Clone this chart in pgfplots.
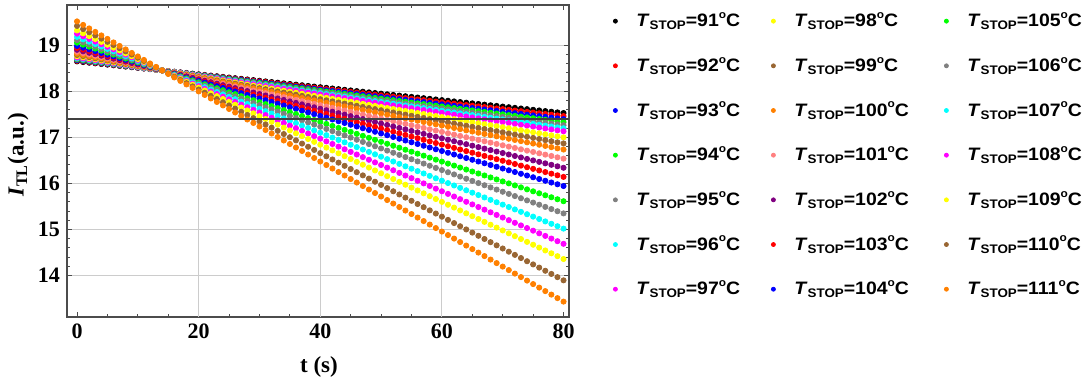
\documentclass[border=0pt]{standalone}
\usepackage{fontspec}
\setmainfont{Liberation Serif}
\newfontfamily\legfont{Liberation Sans}[FakeStretch=1.08]
\usepackage{pgfplots}
\usepackage{pgfplotstable}
\pgfplotsset{compat=1.18}
\definecolor{mRed}{rgb}{1,0,0}
\definecolor{mBlue}{rgb}{0,0,1}
\definecolor{mGreen}{rgb}{0,1,0}
\definecolor{mGray}{rgb}{0.5,0.5,0.5}
\definecolor{mCyan}{rgb}{0,1,1}
\definecolor{mMagenta}{rgb}{1,0,1}
\definecolor{mYellow}{rgb}{1,1,0}
\definecolor{mBrown}{rgb}{0.6,0.4,0.2}
\definecolor{mOrange}{rgb}{1,0.5,0}
\definecolor{mPink}{rgb}{1,0.5,0.5}
\definecolor{mPurple}{rgb}{0.5,0,0.5}
\newcommand{\Ts}[2][62.5pt]{\makebox[#1][l]{\textit{T}\raisebox{-0.3ex}{\fontsize{6.2}{7}\selectfont STOP}=#2\raisebox{0.9ex}{\fontsize{5.5}{6}\selectfont o}C}}
\pgfplotstableread{
t a91 a92 a93 a94 a95 a96 a97 a98 a99 a100 a101 a102 a103 a104 a105 a106 a107 a108 a109 a110 a111
0 18.646 18.660 18.674 18.688 18.702 18.716 18.730 18.758 18.786 18.814 18.856 18.898 18.940 18.982 19.052 19.108 19.178 19.248 19.318 19.416 19.514
1 18.632 18.645 18.658 18.671 18.684 18.697 18.710 18.736 18.762 18.788 18.827 18.866 18.905 18.944 19.009 19.061 19.126 19.191 19.256 19.347 19.438
2 18.618 18.630 18.642 18.654 18.666 18.678 18.690 18.714 18.738 18.762 18.798 18.834 18.870 18.906 18.966 19.014 19.074 19.134 19.194 19.278 19.362
3 18.604 18.615 18.626 18.637 18.648 18.659 18.670 18.692 18.714 18.736 18.769 18.802 18.835 18.868 18.923 18.967 19.022 19.077 19.132 19.209 19.286
4 18.590 18.600 18.610 18.620 18.630 18.640 18.650 18.670 18.690 18.710 18.740 18.770 18.800 18.830 18.880 18.920 18.970 19.020 19.070 19.140 19.210
5 18.576 18.585 18.594 18.603 18.612 18.621 18.630 18.648 18.666 18.684 18.711 18.738 18.765 18.792 18.837 18.873 18.918 18.963 19.008 19.071 19.134
6 18.562 18.570 18.578 18.586 18.594 18.602 18.610 18.626 18.642 18.658 18.682 18.706 18.730 18.754 18.794 18.826 18.866 18.906 18.946 19.002 19.058
7 18.548 18.555 18.562 18.569 18.576 18.583 18.590 18.604 18.618 18.632 18.653 18.674 18.695 18.716 18.751 18.779 18.814 18.849 18.884 18.933 18.982
8 18.534 18.540 18.546 18.552 18.558 18.564 18.570 18.582 18.594 18.606 18.624 18.642 18.660 18.678 18.708 18.732 18.762 18.792 18.822 18.864 18.906
9 18.520 18.525 18.530 18.535 18.540 18.545 18.550 18.560 18.570 18.580 18.595 18.610 18.625 18.640 18.665 18.685 18.710 18.735 18.760 18.795 18.830
10 18.506 18.510 18.514 18.518 18.522 18.526 18.530 18.538 18.546 18.554 18.566 18.578 18.590 18.602 18.622 18.638 18.658 18.678 18.698 18.726 18.754
11 18.492 18.495 18.498 18.501 18.504 18.507 18.510 18.516 18.522 18.528 18.537 18.546 18.555 18.564 18.579 18.591 18.606 18.621 18.636 18.657 18.678
12 18.478 18.480 18.482 18.484 18.486 18.488 18.490 18.494 18.498 18.502 18.508 18.514 18.520 18.526 18.536 18.544 18.554 18.564 18.574 18.588 18.602
13 18.464 18.465 18.466 18.467 18.468 18.469 18.470 18.472 18.474 18.476 18.479 18.482 18.485 18.488 18.493 18.497 18.502 18.507 18.512 18.519 18.526
14 18.450 18.450 18.450 18.450 18.450 18.450 18.450 18.450 18.450 18.450 18.450 18.450 18.450 18.450 18.450 18.450 18.450 18.450 18.450 18.450 18.450
15 18.436 18.435 18.434 18.433 18.432 18.431 18.430 18.428 18.426 18.424 18.421 18.418 18.415 18.412 18.407 18.403 18.398 18.393 18.388 18.381 18.374
16 18.422 18.420 18.418 18.416 18.414 18.412 18.410 18.406 18.402 18.398 18.392 18.386 18.380 18.374 18.364 18.356 18.346 18.336 18.326 18.312 18.298
17 18.408 18.405 18.402 18.399 18.396 18.393 18.390 18.384 18.378 18.372 18.363 18.354 18.345 18.336 18.321 18.309 18.294 18.279 18.264 18.243 18.222
18 18.394 18.390 18.386 18.382 18.378 18.374 18.370 18.362 18.354 18.346 18.334 18.322 18.310 18.298 18.278 18.262 18.242 18.222 18.202 18.174 18.146
19 18.380 18.375 18.370 18.365 18.360 18.355 18.350 18.340 18.330 18.320 18.305 18.290 18.275 18.260 18.235 18.215 18.190 18.165 18.140 18.105 18.070
20 18.366 18.360 18.354 18.348 18.342 18.336 18.330 18.318 18.306 18.294 18.276 18.258 18.240 18.222 18.192 18.168 18.138 18.108 18.078 18.036 17.994
21 18.352 18.345 18.338 18.331 18.324 18.317 18.310 18.296 18.282 18.268 18.247 18.226 18.205 18.184 18.149 18.121 18.086 18.051 18.016 17.967 17.918
22 18.338 18.330 18.322 18.314 18.306 18.298 18.290 18.274 18.258 18.242 18.218 18.194 18.170 18.146 18.106 18.074 18.034 17.994 17.954 17.898 17.842
23 18.324 18.315 18.306 18.297 18.288 18.279 18.270 18.252 18.234 18.216 18.189 18.162 18.135 18.108 18.063 18.027 17.982 17.937 17.892 17.829 17.766
24 18.310 18.300 18.290 18.280 18.270 18.260 18.250 18.230 18.210 18.190 18.160 18.130 18.100 18.070 18.020 17.980 17.930 17.880 17.830 17.760 17.690
25 18.296 18.285 18.274 18.263 18.252 18.241 18.230 18.208 18.186 18.164 18.131 18.098 18.065 18.032 17.977 17.933 17.878 17.823 17.768 17.691 17.614
26 18.282 18.270 18.258 18.246 18.234 18.222 18.210 18.186 18.162 18.138 18.102 18.066 18.030 17.994 17.934 17.886 17.826 17.766 17.706 17.622 17.538
27 18.268 18.255 18.242 18.229 18.216 18.203 18.190 18.164 18.138 18.112 18.073 18.034 17.995 17.956 17.891 17.839 17.774 17.709 17.644 17.553 17.462
28 18.254 18.240 18.226 18.212 18.198 18.184 18.170 18.142 18.114 18.086 18.044 18.002 17.960 17.918 17.848 17.792 17.722 17.652 17.582 17.484 17.386
29 18.240 18.225 18.210 18.195 18.180 18.165 18.150 18.120 18.090 18.060 18.015 17.970 17.925 17.880 17.805 17.745 17.670 17.595 17.520 17.415 17.310
30 18.226 18.210 18.194 18.178 18.162 18.146 18.130 18.098 18.066 18.034 17.986 17.938 17.890 17.842 17.762 17.698 17.618 17.538 17.458 17.346 17.234
31 18.212 18.195 18.178 18.161 18.144 18.127 18.110 18.076 18.042 18.008 17.957 17.906 17.855 17.804 17.719 17.651 17.566 17.481 17.396 17.277 17.158
32 18.198 18.180 18.162 18.144 18.126 18.108 18.090 18.054 18.018 17.982 17.928 17.874 17.820 17.766 17.676 17.604 17.514 17.424 17.334 17.208 17.082
33 18.184 18.165 18.146 18.127 18.108 18.089 18.070 18.032 17.994 17.956 17.899 17.842 17.785 17.728 17.633 17.557 17.462 17.367 17.272 17.139 17.006
34 18.170 18.150 18.130 18.110 18.090 18.070 18.050 18.010 17.970 17.930 17.870 17.810 17.750 17.690 17.590 17.510 17.410 17.310 17.210 17.070 16.930
35 18.156 18.135 18.114 18.093 18.072 18.051 18.030 17.988 17.946 17.904 17.841 17.778 17.715 17.652 17.547 17.463 17.358 17.253 17.148 17.001 16.854
36 18.142 18.120 18.098 18.076 18.054 18.032 18.010 17.966 17.922 17.878 17.812 17.746 17.680 17.614 17.504 17.416 17.306 17.196 17.086 16.932 16.778
37 18.128 18.105 18.082 18.059 18.036 18.013 17.990 17.944 17.898 17.852 17.783 17.714 17.645 17.576 17.461 17.369 17.254 17.139 17.024 16.863 16.702
38 18.114 18.090 18.066 18.042 18.018 17.994 17.970 17.922 17.874 17.826 17.754 17.682 17.610 17.538 17.418 17.322 17.202 17.082 16.962 16.794 16.626
39 18.100 18.075 18.050 18.025 18.000 17.975 17.950 17.900 17.850 17.800 17.725 17.650 17.575 17.500 17.375 17.275 17.150 17.025 16.900 16.725 16.550
40 18.086 18.060 18.034 18.008 17.982 17.956 17.930 17.878 17.826 17.774 17.696 17.618 17.540 17.462 17.332 17.228 17.098 16.968 16.838 16.656 16.474
41 18.072 18.045 18.018 17.991 17.964 17.937 17.910 17.856 17.802 17.748 17.667 17.586 17.505 17.424 17.289 17.181 17.046 16.911 16.776 16.587 16.398
42 18.058 18.030 18.002 17.974 17.946 17.918 17.890 17.834 17.778 17.722 17.638 17.554 17.470 17.386 17.246 17.134 16.994 16.854 16.714 16.518 16.322
43 18.044 18.015 17.986 17.957 17.928 17.899 17.870 17.812 17.754 17.696 17.609 17.522 17.435 17.348 17.203 17.087 16.942 16.797 16.652 16.449 16.246
44 18.030 18.000 17.970 17.940 17.910 17.880 17.850 17.790 17.730 17.670 17.580 17.490 17.400 17.310 17.160 17.040 16.890 16.740 16.590 16.380 16.170
45 18.016 17.985 17.954 17.923 17.892 17.861 17.830 17.768 17.706 17.644 17.551 17.458 17.365 17.272 17.117 16.993 16.838 16.683 16.528 16.311 16.094
46 18.002 17.970 17.938 17.906 17.874 17.842 17.810 17.746 17.682 17.618 17.522 17.426 17.330 17.234 17.074 16.946 16.786 16.626 16.466 16.242 16.018
47 17.988 17.955 17.922 17.889 17.856 17.823 17.790 17.724 17.658 17.592 17.493 17.394 17.295 17.196 17.031 16.899 16.734 16.569 16.404 16.173 15.942
48 17.974 17.940 17.906 17.872 17.838 17.804 17.770 17.702 17.634 17.566 17.464 17.362 17.260 17.158 16.988 16.852 16.682 16.512 16.342 16.104 15.866
49 17.960 17.925 17.890 17.855 17.820 17.785 17.750 17.680 17.610 17.540 17.435 17.330 17.225 17.120 16.945 16.805 16.630 16.455 16.280 16.035 15.790
50 17.946 17.910 17.874 17.838 17.802 17.766 17.730 17.658 17.586 17.514 17.406 17.298 17.190 17.082 16.902 16.758 16.578 16.398 16.218 15.966 15.714
51 17.932 17.895 17.858 17.821 17.784 17.747 17.710 17.636 17.562 17.488 17.377 17.266 17.155 17.044 16.859 16.711 16.526 16.341 16.156 15.897 15.638
52 17.918 17.880 17.842 17.804 17.766 17.728 17.690 17.614 17.538 17.462 17.348 17.234 17.120 17.006 16.816 16.664 16.474 16.284 16.094 15.828 15.562
53 17.904 17.865 17.826 17.787 17.748 17.709 17.670 17.592 17.514 17.436 17.319 17.202 17.085 16.968 16.773 16.617 16.422 16.227 16.032 15.759 15.486
54 17.890 17.850 17.810 17.770 17.730 17.690 17.650 17.570 17.490 17.410 17.290 17.170 17.050 16.930 16.730 16.570 16.370 16.170 15.970 15.690 15.410
55 17.876 17.835 17.794 17.753 17.712 17.671 17.630 17.548 17.466 17.384 17.261 17.138 17.015 16.892 16.687 16.523 16.318 16.113 15.908 15.621 15.334
56 17.862 17.820 17.778 17.736 17.694 17.652 17.610 17.526 17.442 17.358 17.232 17.106 16.980 16.854 16.644 16.476 16.266 16.056 15.846 15.552 15.258
57 17.848 17.805 17.762 17.719 17.676 17.633 17.590 17.504 17.418 17.332 17.203 17.074 16.945 16.816 16.601 16.429 16.214 15.999 15.784 15.483 15.182
58 17.834 17.790 17.746 17.702 17.658 17.614 17.570 17.482 17.394 17.306 17.174 17.042 16.910 16.778 16.558 16.382 16.162 15.942 15.722 15.414 15.106
59 17.820 17.775 17.730 17.685 17.640 17.595 17.550 17.460 17.370 17.280 17.145 17.010 16.875 16.740 16.515 16.335 16.110 15.885 15.660 15.345 15.030
60 17.806 17.760 17.714 17.668 17.622 17.576 17.530 17.438 17.346 17.254 17.116 16.978 16.840 16.702 16.472 16.288 16.058 15.828 15.598 15.276 14.954
61 17.792 17.745 17.698 17.651 17.604 17.557 17.510 17.416 17.322 17.228 17.087 16.946 16.805 16.664 16.429 16.241 16.006 15.771 15.536 15.207 14.878
62 17.778 17.730 17.682 17.634 17.586 17.538 17.490 17.394 17.298 17.202 17.058 16.914 16.770 16.626 16.386 16.194 15.954 15.714 15.474 15.138 14.802
63 17.764 17.715 17.666 17.617 17.568 17.519 17.470 17.372 17.274 17.176 17.029 16.882 16.735 16.588 16.343 16.147 15.902 15.657 15.412 15.069 14.726
64 17.750 17.700 17.650 17.600 17.550 17.500 17.450 17.350 17.250 17.150 17.000 16.850 16.700 16.550 16.300 16.100 15.850 15.600 15.350 15.000 14.650
65 17.736 17.685 17.634 17.583 17.532 17.481 17.430 17.328 17.226 17.124 16.971 16.818 16.665 16.512 16.257 16.053 15.798 15.543 15.288 14.931 14.574
66 17.722 17.670 17.618 17.566 17.514 17.462 17.410 17.306 17.202 17.098 16.942 16.786 16.630 16.474 16.214 16.006 15.746 15.486 15.226 14.862 14.498
67 17.708 17.655 17.602 17.549 17.496 17.443 17.390 17.284 17.178 17.072 16.913 16.754 16.595 16.436 16.171 15.959 15.694 15.429 15.164 14.793 14.422
68 17.694 17.640 17.586 17.532 17.478 17.424 17.370 17.262 17.154 17.046 16.884 16.722 16.560 16.398 16.128 15.912 15.642 15.372 15.102 14.724 14.346
69 17.680 17.625 17.570 17.515 17.460 17.405 17.350 17.240 17.130 17.020 16.855 16.690 16.525 16.360 16.085 15.865 15.590 15.315 15.040 14.655 14.270
70 17.666 17.610 17.554 17.498 17.442 17.386 17.330 17.218 17.106 16.994 16.826 16.658 16.490 16.322 16.042 15.818 15.538 15.258 14.978 14.586 14.194
71 17.652 17.595 17.538 17.481 17.424 17.367 17.310 17.196 17.082 16.968 16.797 16.626 16.455 16.284 15.999 15.771 15.486 15.201 14.916 14.517 14.118
72 17.638 17.580 17.522 17.464 17.406 17.348 17.290 17.174 17.058 16.942 16.768 16.594 16.420 16.246 15.956 15.724 15.434 15.144 14.854 14.448 14.042
73 17.624 17.565 17.506 17.447 17.388 17.329 17.270 17.152 17.034 16.916 16.739 16.562 16.385 16.208 15.913 15.677 15.382 15.087 14.792 14.379 13.966
74 17.610 17.550 17.490 17.430 17.370 17.310 17.250 17.130 17.010 16.890 16.710 16.530 16.350 16.170 15.870 15.630 15.330 15.030 14.730 14.310 13.890
75 17.596 17.535 17.474 17.413 17.352 17.291 17.230 17.108 16.986 16.864 16.681 16.498 16.315 16.132 15.827 15.583 15.278 14.973 14.668 14.241 13.814
76 17.582 17.520 17.458 17.396 17.334 17.272 17.210 17.086 16.962 16.838 16.652 16.466 16.280 16.094 15.784 15.536 15.226 14.916 14.606 14.172 13.738
77 17.568 17.505 17.442 17.379 17.316 17.253 17.190 17.064 16.938 16.812 16.623 16.434 16.245 16.056 15.741 15.489 15.174 14.859 14.544 14.103 13.662
78 17.554 17.490 17.426 17.362 17.298 17.234 17.170 17.042 16.914 16.786 16.594 16.402 16.210 16.018 15.698 15.442 15.122 14.802 14.482 14.034 13.586
79 17.540 17.475 17.410 17.345 17.280 17.215 17.150 17.020 16.890 16.760 16.565 16.370 16.175 15.980 15.655 15.395 15.070 14.745 14.420 13.965 13.510
80 17.526 17.460 17.394 17.328 17.262 17.196 17.130 16.998 16.866 16.734 16.536 16.338 16.140 15.942 15.612 15.348 15.018 14.688 14.358 13.896 13.434
}\dataT
\begin{document}
\begin{tikzpicture}
\useasboundingbox (0,0) rectangle (544.5pt,192.5pt);
\begin{axis}[
  at={(33.5pt,34pt)}, anchor=south west,
  scale only axis, width=251pt, height=156pt,
  xmin=-1.65, xmax=80.9, ymin=13.1, ymax=19.87,
  clip marker paths=true,
  xtick={0,20,40,60,80}, ytick={14,15,16,17,18,19},
  minor x tick num=3, minor y tick num=4,
  major tick length=2.5pt, minor tick length=1.5pt,
  tick style={gray!60!black, line width=0.5pt},
  axis line style={gray!60!black, line width=0.7pt},
  ymajorgrids, major grid style={gray!40, line width=0.5pt},
  extra x ticks={20,40,60}, extra x tick labels={},
  extra x tick style={grid=major, major tick length=0pt},
  /pgf/number format/assume math mode=true,
  ticklabel style={font=\bfseries\fontsize{11}{13}\selectfont},
  xlabel={\bfseries t (s)},
  ylabel={\textbf{\textit{I}}\textsubscript{\textbf{TL}}\textbf{(a.u.)}},
  label style={font=\fontsize{11.5}{13}\selectfont},
  xlabel style={at={(axis description cs:0.502,-0.16)}, anchor=center},
  ylabel style={at={(axis description cs:-0.0976,0.52)}, anchor=center},
  legend cell align=left,
  legend style={draw=none, fill=none, inner sep=0pt,
    at={(axis description cs:1,1)}, anchor=north west, xshift=22pt, yshift=-2.5pt,
    font=\legfont\bfseries\fontsize{9}{11}\selectfont,
    nodes={inner sep=1pt}, row sep=11.6pt,
    /tikz/every odd column/.append style={column sep=8.5pt},
    /tikz/every even column/.append style={column sep=4pt}},
  legend columns=3,
  every axis plot/.append style={only marks, mark=*, mark size=1.3pt, forget plot},
]
\addplot[color=black] table[x=t,y=a91]{\dataT};
\addplot[color=mRed] table[x=t,y=a92]{\dataT};
\addplot[color=mBlue] table[x=t,y=a93]{\dataT};
\addplot[color=mGreen] table[x=t,y=a94]{\dataT};
\addplot[color=mGray] table[x=t,y=a95]{\dataT};
\addplot[color=mCyan] table[x=t,y=a96]{\dataT};
\addplot[color=mMagenta] table[x=t,y=a97]{\dataT};
\addplot[color=mYellow] table[x=t,y=a98]{\dataT};
\addplot[color=mBrown] table[x=t,y=a99]{\dataT};
\addplot[color=mOrange] table[x=t,y=a100]{\dataT};
\addplot[color=mPink] table[x=t,y=a101]{\dataT};
\addplot[color=mPurple] table[x=t,y=a102]{\dataT};
\addplot[color=mRed] table[x=t,y=a103]{\dataT};
\addplot[color=mBlue] table[x=t,y=a104]{\dataT};
\addplot[color=mGreen] table[x=t,y=a105]{\dataT};
\addplot[color=mGray] table[x=t,y=a106]{\dataT};
\addplot[color=mCyan] table[x=t,y=a107]{\dataT};
\addplot[color=mMagenta] table[x=t,y=a108]{\dataT};
\addplot[color=mYellow] table[x=t,y=a109]{\dataT};
\addplot[color=mBrown] table[x=t,y=a110]{\dataT};
\addplot[color=mOrange] table[x=t,y=a111]{\dataT};
% reference level line, drawn over the dots
\addplot[sharp plot, mark=none, draw=gray!50!black, line width=0.8pt] coordinates {(-1.65,17.4) (80.9,17.4)};
% legend, row by row (3 columns x 7 rows)
\addlegendimage{only marks, mark=*, mark size=1pt, color=black}\addlegendentry{\Ts{91}}
\addlegendimage{only marks, mark=*, mark size=1pt, color=mYellow}\addlegendentry{\Ts[70pt]{98}}
\addlegendimage{only marks, mark=*, mark size=1pt, color=mGreen}\addlegendentry{\Ts[58pt]{105}}
\addlegendimage{only marks, mark=*, mark size=1pt, color=mRed}\addlegendentry{\Ts{92}}
\addlegendimage{only marks, mark=*, mark size=1pt, color=mBrown}\addlegendentry{\Ts[70pt]{99}}
\addlegendimage{only marks, mark=*, mark size=1pt, color=mGray}\addlegendentry{\Ts[58pt]{106}}
\addlegendimage{only marks, mark=*, mark size=1pt, color=mBlue}\addlegendentry{\Ts{93}}
\addlegendimage{only marks, mark=*, mark size=1pt, color=mOrange}\addlegendentry{\Ts[70pt]{100}}
\addlegendimage{only marks, mark=*, mark size=1pt, color=mCyan}\addlegendentry{\Ts[58pt]{107}}
\addlegendimage{only marks, mark=*, mark size=1pt, color=mGreen}\addlegendentry{\Ts{94}}
\addlegendimage{only marks, mark=*, mark size=1pt, color=mPink}\addlegendentry{\Ts[70pt]{101}}
\addlegendimage{only marks, mark=*, mark size=1pt, color=mMagenta}\addlegendentry{\Ts[58pt]{108}}
\addlegendimage{only marks, mark=*, mark size=1pt, color=mGray}\addlegendentry{\Ts{95}}
\addlegendimage{only marks, mark=*, mark size=1pt, color=mPurple}\addlegendentry{\Ts[70pt]{102}}
\addlegendimage{only marks, mark=*, mark size=1pt, color=mYellow}\addlegendentry{\Ts[58pt]{109}}
\addlegendimage{only marks, mark=*, mark size=1pt, color=mCyan}\addlegendentry{\Ts{96}}
\addlegendimage{only marks, mark=*, mark size=1pt, color=mRed}\addlegendentry{\Ts[70pt]{103}}
\addlegendimage{only marks, mark=*, mark size=1pt, color=mBrown}\addlegendentry{\Ts[58pt]{110}}
\addlegendimage{only marks, mark=*, mark size=1pt, color=mMagenta}\addlegendentry{\Ts{97}}
\addlegendimage{only marks, mark=*, mark size=1pt, color=mBlue}\addlegendentry{\Ts[70pt]{104}}
\addlegendimage{only marks, mark=*, mark size=1pt, color=mOrange}\addlegendentry{\Ts[58pt]{111}}
\end{axis}
\end{tikzpicture}
\end{document}
